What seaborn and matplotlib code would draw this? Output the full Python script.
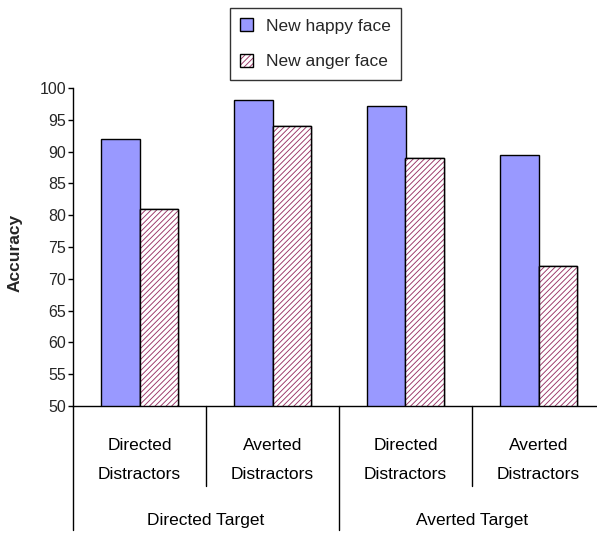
import matplotlib
matplotlib.use("Agg")
import matplotlib.pyplot as plt
from matplotlib.patches import Rectangle, Patch
from matplotlib.legend_handler import HandlerTuple
import matplotlib.transforms as mtransforms
import seaborn as sns
import pandas as pd

# Accuracy per condition
conditions = ["Directed\nDistractors", "Averted\nDistractors",
              "Directed\nDistractors ", "Averted\nDistractors "]
target_groups = ["Directed Target", "Averted Target"]
series = ["New happy face", "New anger face"]
happy_values = [92.0, 98.1, 97.1, 89.5]
anger_values = [81.0, 94.0, 89.0, 72.0]
y_ticks = [50, 55, 60, 65, 70, 75, 80, 85, 90, 95, 100]

df = pd.DataFrame({
    "condition": conditions * 2,
    "face": [series[0]] * 4 + [series[1]] * 4,
    "accuracy": happy_values + anger_values,
})

BLUE = "#9999FF"
PLUM = "#993366"

sns.set_theme(style="white")
plt.rcParams["font.family"] = ["Liberation Sans", "DejaVu Sans"]
plt.rcParams["hatch.linewidth"] = 0.65

fig = plt.figure(figsize=(5.97, 5.33), dpi=100)
ax = fig.add_axes([73 / 597, 1 - 406 / 533, 1 - 73 / 597, (406 - 88) / 533])

sns.barplot(data=df, x="condition", y="accuracy", hue="face",
            palette=[BLUE, "white"], width=0.572, gap=0,
            edgecolor="black", linewidth=1.0, saturation=1,
            legend=False, ax=ax)

# hatched overlay for the anger-face bars, keeping a black outline
bars = [p for p in ax.patches if isinstance(p, Rectangle)]
anger_bars = bars[4:8]
for b in anger_bars:
    x, y = b.get_xy()
    ax.add_patch(Rectangle((x, y), b.get_width(), b.get_height(),
                           facecolor="white", edgecolor=PLUM, hatch="//////",
                           linewidth=0, zorder=b.get_zorder() + 0.1))
    ax.add_patch(Rectangle((x, y), b.get_width(), b.get_height(),
                           fill=False, edgecolor="black", linewidth=1.0,
                           zorder=b.get_zorder() + 0.2))

ax.set_ylim(50, 100)
ax.set_xlim(-0.5, -0.5 + 524 / 133)
ax.set_yticks(y_ticks)
ax.set_yticklabels([str(t) for t in y_ticks], fontsize=11.5)
ax.tick_params(axis="y", direction="out", length=3.6, width=1, color="black",
               left=True, pad=1.5)
ax.set_xticks([])
ax.set_xlabel("")
ax.set_ylabel("Accuracy", fontsize=12.5, fontweight="bold")
ax.yaxis.set_label_coords((23 - 73) / 524, (406 - 253) / 318)

for side in ["top", "right"]:
    ax.spines[side].set_visible(False)
for side in ["left", "bottom"]:
    ax.spines[side].set_color("black")
    ax.spines[side].set_linewidth(1.0)

# multi-level category axis
trans = mtransforms.blended_transform_factory(ax.transData, ax.transAxes)
h_ax = (406 - 88)
def ay(py):
    return (406 - py) / h_ax

for i, lab in enumerate(conditions):
    ax.text(i, ay(460), lab.strip(), transform=trans, ha="center", va="center",
            fontsize=12.5, linespacing=2.1, color="black")
for g, lab in enumerate(target_groups):
    ax.text(2 * g + 0.5, ay(521), lab, transform=trans, ha="center",
            va="center", fontsize=12.5, color="black")

for xpos, bottom in [(-0.5, 530), (0.5, 486), (1.5, 530), (2.5, 486), (3.5, 530)]:
    ax.plot([xpos, xpos], [0, ay(bottom)], transform=trans, color="black",
            linewidth=1.0, clip_on=False)

# legend
happy_handle = Patch(facecolor=BLUE, edgecolor="black", linewidth=1.0)
anger_hatch = Patch(facecolor="white", edgecolor=PLUM, hatch="//////", linewidth=0)
anger_edge = Patch(facecolor="none", edgecolor="black", linewidth=1.0)
leg = fig.legend([happy_handle, (anger_hatch, anger_edge)], series,
                 handler_map={tuple: HandlerTuple(ndivide=1)},
                 loc="upper left", bbox_to_anchor=(230 / 597, 1 - 8 / 533),
                 frameon=True, fancybox=False, fontsize=12.5,
                 handlelength=0.75, handleheight=0.75, handletextpad=0.7,
                 labelspacing=1.15, borderpad=0.6, borderaxespad=0)
leg.get_frame().set_edgecolor("black")
leg.get_frame().set_linewidth(1.0)

fig.savefig("out.png", dpi=100, facecolor="white")
